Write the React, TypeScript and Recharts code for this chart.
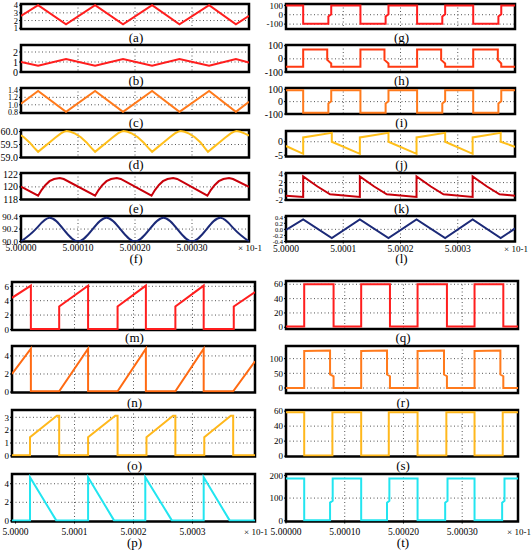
import React from "react"
import { CartesianGrid, Line, LineChart, ReferenceArea, XAxis, YAxis } from "recharts"

type Pt = [number, number]

// shared time axis (offset units, 1 = 1e-5 of the 5.0000 label scale)
const timeTicks = [0, 10, 20, 30]
const timeLabelsLong = ["5.00000", "5.00010", "5.00020", "5.00030"]
const timeLabelsShort = ["5.0000", "5.0001", "5.0002", "5.0003"]
const gridX = [10, 20, 30]
const scaleNote = "× 10-1"

// left column, top block
const waveA: Pt[] = [[0, 2.6], [3, 4.0], [7.9, 1.5], [13, 4.0], [17.9, 1.5], [23, 4.0], [27.8, 1.5], [33, 4.0], [37.7, 1.5], [40, 2.6]]
const waveB: Pt[] = [[0, 1.0], [3, 0.62], [7.9, 1.3], [13, 0.62], [17.9, 1.3], [23, 0.62], [27.8, 1.3], [33, 0.62], [37.7, 1.3], [40, 0.95]]
const waveC: Pt[] = [[0, 1.03], [3, 1.37], [7.9, 0.81], [13, 1.37], [17.9, 0.81], [23, 1.37], [27.8, 0.81], [33, 1.37], [37.7, 0.81], [40, 1.08]]
const waveD: Pt[] = [
  [0, 59.86], [0.5, 59.78], [1.5, 59.58], [2.3, 59.38], [3, 59.22], [4, 59.4], [5, 59.58], [6, 59.76], [7, 59.93], [7.5, 59.99], [8, 60.02],
  [8.7, 59.99], [9.5, 59.92], [10.5, 59.78], [11.5, 59.58], [12.3, 59.38], [13, 59.22], [14, 59.4], [15, 59.58], [16, 59.76], [17, 59.93], [17.5, 59.99], [18, 60.02],
  [18.7, 59.99], [19.5, 59.92], [20.5, 59.78], [21.5, 59.58], [22.3, 59.38], [23, 59.22], [24, 59.4], [25, 59.58], [26, 59.76], [27, 59.93], [27.5, 59.99], [28, 60.02],
  [28.7, 59.99], [29.5, 59.92], [30.5, 59.78], [31.5, 59.58], [32.2, 59.38], [32.8, 59.22], [33.8, 59.4], [34.8, 59.58], [35.8, 59.76], [36.8, 59.93], [37.3, 59.99], [37.8, 60.02],
  [38.5, 59.99], [39.3, 59.92], [40, 59.84],
]
const waveE: Pt[] = [
  [0, 120.05], [3, 118.6], [3.6, 119.5], [4.3, 120.3], [5, 120.9], [5.8, 121.25], [6.8, 121.4], [7.5, 121.25],
  [13, 118.6], [13.6, 119.5], [14.3, 120.3], [15, 120.9], [15.8, 121.25], [16.8, 121.4], [17.5, 121.25],
  [22.9, 118.6], [23.5, 119.5], [24.2, 120.3], [24.9, 120.9], [25.7, 121.25], [26.7, 121.4], [27.4, 121.25],
  [32.7, 118.6], [33.3, 119.5], [34, 120.3], [34.7, 120.9], [35.5, 121.25], [36.5, 121.4], [37.2, 121.25],
  [40, 120.0],
]
const waveF: Pt[] = [
  [0, 90.0], [2.5, 90.19], [5, 90.38], [7.5, 90.19], [10, 90.0], [12.5, 90.19], [15, 90.38], [17.5, 90.19], [20, 90.0],
  [22.5, 90.19], [25, 90.38], [27.5, 90.19], [30, 90.0], [32.5, 90.19], [35, 90.38], [37.5, 90.19], [40, 90.0],
]

// right column, top block
const waveG: Pt[] = [
  [0, 97], [3, 97], [3, -97], [7.4, -97], [7.4, -20], [7.9, 5], [7.9, 97],
  [13, 97], [13, -97], [17.4, -97], [17.4, -20], [17.9, 5], [17.9, 97],
  [22.9, 97], [22.9, -97], [27.3, -97], [27.3, -20], [27.8, 5], [27.8, 97],
  [32.7, 97], [32.7, -97], [37.1, -97], [37.1, -20], [37.6, 5], [37.6, 97], [40, 97],
]
const waveH: Pt[] = [
  [0, -60], [3, -60], [3, 70], [7.2, 70], [7.2, -8], [7.9, -35], [7.9, -60],
  [13, -60], [13, 70], [17.2, 70], [17.2, -8], [17.9, -35], [17.9, -60],
  [22.9, -60], [22.9, 70], [27.1, 70], [27.1, -8], [27.8, -35], [27.8, -60],
  [32.7, -60], [32.7, 70], [37, 70], [37, -8], [37.6, -35], [37.6, -60], [40, -60],
]
const waveI: Pt[] = [
  [0, 92], [3, 92], [3, -90], [7.4, -90], [7.4, -15], [7.9, 3], [7.9, 92],
  [13, 92], [13, -90], [17.4, -90], [17.4, -15], [17.9, 3], [17.9, 92],
  [22.9, 92], [22.9, -90], [27.3, -90], [27.3, -15], [27.8, 3], [27.8, 92],
  [32.7, 92], [32.7, -90], [37.1, -90], [37.1, -15], [37.6, 3], [37.6, 92], [40, 92],
]
const waveJ: Pt[] = [
  [0, -1.6], [3, -4.5], [3, 1.6], [8, 3.3], [8, 0], [12.9, -4.5], [12.9, 1.6], [17.9, 3.3], [17.9, 0],
  [22.8, -4.5], [22.8, 1.6], [27.8, 3.3], [27.8, 0], [32.6, -4.5], [32.6, 1.6], [37.5, 3.3], [37.5, 0], [40, -1.9],
]
const waveK: Pt[] = [
  [0, -1.0], [3, -1.3], [3, 3.4], [5.5, 1.1], [7.7, -0.7], [12.9, -1.3], [12.9, 3.4], [15.4, 1.1], [17.6, -0.7],
  [22.8, -1.3], [22.8, 3.4], [25.3, 1.1], [27.5, -0.7], [32.6, -1.3], [32.6, 3.4], [35.1, 1.1], [37.3, -0.7], [40, -1.0],
]
const waveL: Pt[] = [
  [0, -0.02], [3, 0.33], [8, -0.29], [12.9, 0.33], [17.9, -0.29], [22.8, 0.33], [27.8, -0.29], [32.6, 0.33], [37.5, -0.29], [40, 0.03],
]

// left column, bottom block
const waveM: Pt[] = [
  [-0.6, 4.4], [2.6, 6.1], [2.6, 0.05], [7.4, 0.05], [7.4, 3.2], [12.3, 6.1], [12.3, 0.05],
  [17.3, 0.05], [17.3, 3.2], [22.1, 6.1], [22.1, 0.05], [27.1, 0.05], [27.1, 3.2], [31.9, 6.1], [31.9, 0.05],
  [37, 0.05], [37, 3.2], [40.6, 5.2],
]
const waveN: Pt[] = [
  [-0.6, 2.0], [2.6, 4.8], [2.6, 0.08], [7.4, 0.08], [12.3, 4.8], [12.3, 0.08], [17.3, 0.08], [22.1, 4.8], [22.1, 0.08],
  [27.1, 0.08], [31.9, 4.8], [31.9, 0.08], [36.9, 0.08], [40.6, 3.4],
]
const waveO: Pt[] = [
  [-0.6, 0.05], [2.45, 0.05], [2.45, 1.45], [7.0, 3.12], [7.4, 3.12], [7.4, 0.05],
  [12.3, 0.05], [12.3, 1.45], [16.9, 3.12], [17.3, 3.12], [17.3, 0.05],
  [22.2, 0.05], [22.2, 1.45], [26.7, 3.12], [27.1, 3.12], [27.1, 0.05],
  [32.0, 0.05], [32.0, 1.45], [36.5, 3.12], [36.9, 3.12], [36.9, 0.05], [40.6, 0.05],
]
const waveP: Pt[] = [
  [-0.6, 0.05], [2.45, 0.05], [2.45, 4.7], [6.9, 0.05], [12.3, 0.05], [12.3, 4.7], [16.7, 0.05],
  [22.0, 0.05], [22.0, 4.7], [26.5, 0.05], [31.9, 0.05], [31.9, 4.7], [36.3, 0.05], [40.6, 0.05],
]

// right column, bottom block
const waveQ: Pt[] = [
  [0, 1], [3.1, 1], [3.1, 60], [8.1, 60], [8.1, 1], [12.8, 1], [12.8, 60], [17.7, 60], [17.7, 1],
  [22.4, 1], [22.4, 60], [27.4, 60], [27.4, 1], [32.1, 1], [32.1, 60], [37, 60], [37, 1], [39.5, 1],
]
const waveR: Pt[] = [
  [0, 0], [3.1, 0], [3.1, 126], [7.5, 128], [7.5, 46], [8.1, 40], [8.1, 0],
  [12.8, 0], [12.8, 126], [17.2, 128], [17.2, 46], [17.7, 40], [17.7, 0],
  [22.4, 0], [22.4, 126], [26.9, 128], [26.9, 46], [27.4, 40], [27.4, 0],
  [32.1, 0], [32.1, 126], [36.5, 128], [36.5, 46], [37, 40], [37, 0], [39.5, 0],
]
const waveS: Pt[] = [
  [0, 58.5], [3.1, 58.5], [3.1, 1], [7.9, 1], [7.9, 58.5], [12.8, 58.5], [12.8, 1], [17.5, 1], [17.5, 58.5],
  [22.4, 58.5], [22.4, 1], [27.3, 1], [27.3, 58.5], [32.1, 58.5], [32.1, 1], [36.9, 1], [36.9, 58.5], [39.5, 58.5],
]
const waveT: Pt[] = [
  [0, 186], [3.1, 186], [3.1, 3], [7.5, 3], [7.5, 80], [7.95, 88], [7.95, 186],
  [12.8, 186], [12.8, 3], [17.2, 3], [17.2, 80], [17.6, 88], [17.6, 186],
  [22.4, 186], [22.4, 3], [27.1, 3], [27.1, 80], [27.5, 88], [27.5, 186],
  [32.1, 186], [32.1, 3], [36.8, 3], [36.8, 80], [37.2, 88], [37.2, 186], [39.5, 186],
]

const serif = "'Liberation Serif', 'Times New Roman', serif"

interface PanelDef {
  wave: Pt[]
  color: string
  caption: string
  left: number
  top: number
  width: number
  height: number
  xDomain: [number, number]
  yDomain: [number, number]
  yTicks: number[]
  yLabels: string[]
  gridY: number[]
  captionY: number
  xLabels?: string[]
  axisGap?: number
  curve?: "linear" | "natural"
  tickFont?: number
}

const topX: [number, number] = [0, 40]
const botLeftX: [number, number] = [-0.6, 40.6]
const botRightX: [number, number] = [0, 39.5]

const panels: PanelDef[] = [
  { wave: waveA, color: "#ff1e1e", caption: "(a)", left: 21, top: 4, width: 228, height: 25, xDomain: topX, yDomain: [0.9, 4.15], yTicks: [1, 2, 3, 4], yLabels: ["1", "2", "3", "4"], gridY: [2, 3], captionY: 37, tickFont: 8.5 },
  { wave: waveB, color: "#ff1e1e", caption: "(b)", left: 21, top: 45, width: 228, height: 27, xDomain: topX, yDomain: [0, 2.7], yTicks: [0, 1, 2], yLabels: ["0", "1", "2"], gridY: [1, 2], captionY: 80 },
  { wave: waveC, color: "#ff7a1c", caption: "(c)", left: 21, top: 88, width: 228, height: 25, xDomain: topX, yDomain: [0.78, 1.45], yTicks: [0.8, 1.0, 1.2, 1.4], yLabels: ["0.8", "1.0", "1.2", "1.4"], gridY: [1.0, 1.2], captionY: 122, tickFont: 8 },
  { wave: waveD, color: "#ffbf1a", caption: "(d)", left: 21, top: 130, width: 228, height: 27.5, xDomain: topX, yDomain: [59.0, 60.06], yTicks: [59.0, 59.5, 60.0], yLabels: ["59.0", "59.5", "60.0"], gridY: [59.5], captionY: 164 },
  { wave: waveE, color: "#c8000a", caption: "(e)", left: 21, top: 173, width: 228, height: 26.5, xDomain: topX, yDomain: [118, 122.2], yTicks: [118, 120, 122], yLabels: ["118", "120", "122"], gridY: [120], captionY: 208 },
  { wave: waveF, color: "#1c2a78", caption: "(f)", left: 21, top: 216, width: 228, height: 25.5, xDomain: topX, yDomain: [90.0, 90.41], yTicks: [90.0, 90.2, 90.4], yLabels: ["90.0", "90.2", "90.4"], gridY: [90.2], captionY: 258, xLabels: timeLabelsLong, axisGap: 1, curve: "natural", tickFont: 9 },
  { wave: waveG, color: "#ff1e1e", caption: "(g)", left: 286, top: 4, width: 229, height: 25, xDomain: topX, yDomain: [-152, 114], yTicks: [-100, 0, 100], yLabels: ["-100", "0", "100"], gridY: [-100, 0], captionY: 37, tickFont: 9 },
  { wave: waveH, color: "#ff3a12", caption: "(h)", left: 286, top: 45, width: 229, height: 27, xDomain: topX, yDomain: [-100, 105], yTicks: [-100, 0, 100], yLabels: ["-100", "0", "100"], gridY: [0], captionY: 80 },
  { wave: waveI, color: "#ff7a1c", caption: "(i)", left: 286, top: 88, width: 229, height: 26, xDomain: topX, yDomain: [-100, 110], yTicks: [-100, 0, 100], yLabels: ["-100", "0", "100"], gridY: [0], captionY: 122 },
  { wave: waveJ, color: "#ffbf1a", caption: "(j)", left: 286, top: 131, width: 229, height: 25.5, xDomain: topX, yDomain: [-5.5, 4], yTicks: [-5, 0], yLabels: ["-5", "0"], gridY: [0], captionY: 164 },
  { wave: waveK, color: "#c8000a", caption: "(k)", left: 286, top: 173, width: 229, height: 27, xDomain: topX, yDomain: [-2, 4.2], yTicks: [-2, 0, 2, 4], yLabels: ["-2", "0", "2", "4"], gridY: [0, 2], captionY: 208, tickFont: 9 },
  { wave: waveL, color: "#1c2a78", caption: "(l)", left: 286, top: 216, width: 229, height: 25.5, xDomain: topX, yDomain: [-0.4, 0.44], yTicks: [-0.4, -0.2, 0, 0.2, 0.4], yLabels: ["-0.4", "-0.2", "0.0", "0.2", "0.4"], gridY: [0], captionY: 258, xLabels: timeLabelsShort, axisGap: 2, tickFont: 6.5 },
  { wave: waveM, color: "#ff1e1e", caption: "(m)", left: 12, top: 281.5, width: 243, height: 48, xDomain: botLeftX, yDomain: [-0.08, 6.6], yTicks: [0, 2, 4, 6], yLabels: ["0", "2", "4", "6"], gridY: [2, 4, 6], captionY: 337, tickFont: 9 },
  { wave: waveN, color: "#ff6a12", caption: "(n)", left: 12, top: 346, width: 243, height: 46.5, xDomain: botLeftX, yDomain: [-0.05, 5.1], yTicks: [0, 2, 4], yLabels: ["0", "2", "4"], gridY: [2, 4], captionY: 402, tickFont: 9 },
  { wave: waveO, color: "#ffb81c", caption: "(o)", left: 12, top: 410, width: 243, height: 46.5, xDomain: botLeftX, yDomain: [-0.05, 3.57], yTicks: [0, 1, 2, 3], yLabels: ["0", "1", "2", "3"], gridY: [1, 2, 3], captionY: 465, tickFont: 9 },
  { wave: waveP, color: "#22e5f0", caption: "(p)", left: 12, top: 474, width: 243, height: 47.5, xDomain: botLeftX, yDomain: [-0.07, 5.05], yTicks: [0, 2, 4], yLabels: ["0", "2", "4"], gridY: [2, 4], captionY: 542, xLabels: timeLabelsShort, axisGap: 5, tickFont: 9 },
  { wave: waveQ, color: "#ff1e1e", caption: "(q)", left: 286, top: 281, width: 232, height: 48, xDomain: botRightX, yDomain: [-2.4, 64.6], yTicks: [0, 20, 40, 60], yLabels: ["0", "20", "40", "60"], gridY: [20, 40, 60], captionY: 337, tickFont: 9 },
  { wave: waveR, color: "#ff7a1c", caption: "(r)", left: 286, top: 345.5, width: 232, height: 47, xDomain: botRightX, yDomain: [-17, 143], yTicks: [0, 50, 100], yLabels: ["0", "50", "100"], gridY: [0, 50, 100], captionY: 402, tickFont: 9 },
  { wave: waveS, color: "#ffb81c", caption: "(s)", left: 286, top: 410, width: 232, height: 46.5, xDomain: botRightX, yDomain: [-0.5, 61.5], yTicks: [0, 20, 40, 60], yLabels: ["0", "20", "40", "60"], gridY: [20, 40], captionY: 465, tickFont: 9 },
  { wave: waveT, color: "#22e5f0", caption: "(t)", left: 286, top: 474, width: 232, height: 47.5, xDomain: botRightX, yDomain: [-3, 206], yTicks: [0, 100, 200], yLabels: ["0", "100", "200"], gridY: [100], captionY: 542, xLabels: timeLabelsLong, axisGap: 5, tickFont: 9 },
]

const Panel: React.FC<{ p: PanelDef }> = ({ p }) => {
  const gutter = 40
  const padTop = 7
  const padRight = 6
  const padBottom = 7
  const gap = p.axisGap ?? 0
  const axisH = p.xLabels ? 14 + gap : 0
  const data = p.wave.map(([t, v]) => ({ t, v }))
  const fmtY = (v: number) => p.yLabels[p.yTicks.indexOf(v)] ?? ""
  const fmtX = (v: number) => (p.xLabels ? p.xLabels[timeTicks.indexOf(v)] ?? "" : "")
  const fs = p.tickFont ?? 10
  return (
    <>
      <div style={{ position: "absolute", left: p.left - gutter, top: p.top - padTop }}>
        <LineChart
          width={gutter + p.width + padRight}
          height={padTop + p.height + axisH + padBottom}
          data={data}
          margin={{ top: padTop, right: padRight, bottom: padBottom, left: 0 }}
          style={{ overflow: "visible" }}
        >
          <CartesianGrid
            horizontalValues={p.gridY}
            verticalValues={gridX}
            stroke={"#555"}
            strokeDasharray={"1 2.5"}
          />
          <XAxis
            dataKey={"t"}
            type={"number"}
            domain={p.xDomain}
            allowDataOverflow
            hide={!p.xLabels}
            height={axisH}
            ticks={timeTicks}
            interval={0}
            tickFormatter={fmtX}
            axisLine={false}
            tickSize={2}
            tickMargin={gap}
            tickLine={{ stroke: "#000" }}
            tick={{ fontSize: 9.5, fill: "#000", fontFamily: serif }}
          />
          <YAxis
            type={"number"}
            domain={p.yDomain}
            allowDataOverflow
            width={gutter}
            ticks={p.yTicks}
            interval={0}
            tickFormatter={fmtY}
            axisLine={false}
            tickSize={2}
            tickMargin={1}
            tickLine={{ stroke: "#000" }}
            tick={{ fontSize: fs, fill: "#000", fontFamily: serif }}
          />
          <ReferenceArea
            x1={p.xDomain[0]}
            x2={p.xDomain[1]}
            y1={p.yDomain[0]}
            y2={p.yDomain[1]}
            fill={"none"}
            fillOpacity={0}
            stroke={"#000"}
            strokeWidth={2.5}
          />
          <Line
            type={p.curve ?? "linear"}
            dataKey={"v"}
            stroke={p.color}
            strokeWidth={2}
            dot={false}
            isAnimationActive={false}
          />
        </LineChart>
      </div>
      <div
        style={{
          position: "absolute",
          left: p.left + p.width / 2 + 1,
          top: p.captionY,
          transform: "translate(-50%, -50%)",
          fontFamily: serif,
          fontSize: 13,
          lineHeight: 1,
          whiteSpace: "nowrap",
        }}
      >
        {p.caption}
      </div>
      {p.xLabels && (
        <div
          style={{
            position: "absolute",
            left: p.left + p.width + 1,
            top: p.top + p.height + 5 + gap,
            transform: "translate(-50%, -50%)",
            fontFamily: serif,
            fontSize: 9,
            lineHeight: 1,
            whiteSpace: "nowrap",
            background: "#fff",
          }}
        >
          {scaleNote}
        </div>
      )}
    </>
  )
}

export default function App() {
  return (
    <div style={{ position: "absolute", left: 0, top: 0, width: 531, height: 550, background: "#fff", overflow: "hidden" }}>
      {panels.map((p) => (
        <Panel key={p.caption} p={p} />
      ))}
    </div>
  )
}
